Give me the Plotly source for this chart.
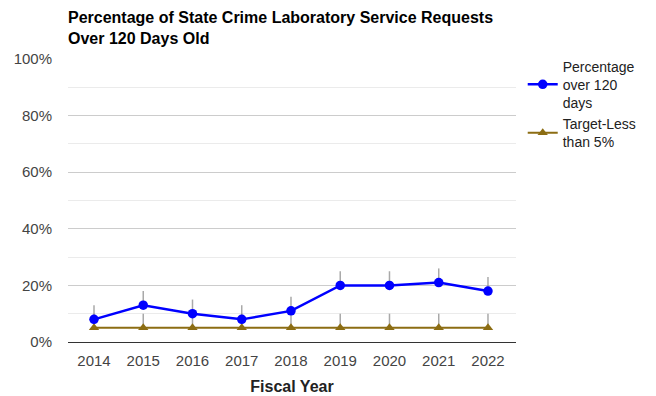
import plotly.graph_objects as go

# Fiscal years on the category axis
years = ["2014", "2015", "2016", "2017", "2018", "2019", "2020", "2021", "2022"]

# Percentage of service requests older than 120 days
pct_over_120 = [8, 13, 10, 8, 11, 20, 20, 21, 18]
pct_interval_up = [5, 5, 5, 5, 5, 5, 5, 5, 5]

# Target: less than 5%
target = [5, 5, 5, 5, 5, 5, 5, 5, 5]
target_interval_up = [5, 5, 5, 5, 5, 5, 5, 5, 5]

zeros = [0, 0, 0, 0, 0, 0, 0, 0, 0]

FONT = "Liberation Sans, Arial, sans-serif"
STICK = "rgba(140,140,140,0.75)"

fig = go.Figure()

fig.add_trace(go.Scatter(
    x=years, y=target, name="Target-Less<br>than 5%",
    mode="lines+markers",
    line=dict(color="#8c6d13", width=2),
    marker=dict(symbol="triangle-up", size=9, color="#8c6d13"),
    error_y=dict(type="data", symmetric=False, array=target_interval_up,
                 arrayminus=zeros, color=STICK, thickness=1.5, width=0),
))

fig.add_trace(go.Scatter(
    x=years, y=pct_over_120, name="Percentage<br>over 120<br>days",
    mode="lines+markers",
    line=dict(color="#0000ff", width=2.5),
    marker=dict(symbol="circle", size=9.5, color="#0000ff"),
    error_y=dict(type="data", symmetric=False, array=pct_interval_up,
                 arrayminus=zeros, color=STICK, thickness=1.5, width=0),
))

fig.update_layout(
    width=656, height=396,
    margin=dict(l=68, r=140, t=59, b=54, autoexpand=False),
    paper_bgcolor="white", plot_bgcolor="white",
    font=dict(family=FONT, size=15, color="#444"),
    showlegend=True,
    legend=dict(
        x=1.015, y=1.03, xanchor="left", yanchor="top",
        traceorder="reversed",
        font=dict(family=FONT, size=14, color="#222"),
        itemwidth=30,
        bgcolor="rgba(0,0,0,0)",
    ),
    xaxis=dict(
        type="category", range=[-0.528, 8.569],
        showgrid=False, zeroline=False, showline=False,
        ticks="", tickfont=dict(size=15, color="#444"),
        ticklabelstandoff=8, automargin=False,
        title=dict(text="<b>Fiscal Year</b>", font=dict(size=16, color="#222"), standoff=12),
    ),
    yaxis=dict(
        range=[0, 100], dtick=20, ticksuffix="%",
        showgrid=True, gridcolor="#cccccc", gridwidth=1,
        minor=dict(dtick=10, showgrid=True, gridcolor="#ebebeb"),
        zeroline=True, zerolinecolor="#333333", zerolinewidth=1,
        showline=False, ticks="",
        tickfont=dict(size=15, color="#444"),
        ticklabelstandoff=15, automargin=False,
    ),
)

fig.add_annotation(
    text="<b>Percentage of State Crime Laboratory Service Requests<br>Over 120 Days Old</b>",
    xref="paper", yref="paper", x=0, y=1, xanchor="left", yanchor="bottom",
    xshift=-2, yshift=10, align="left", showarrow=False,
    font=dict(family=FONT, size=16, color="#000"),
)

fig.write_html("out.html")
